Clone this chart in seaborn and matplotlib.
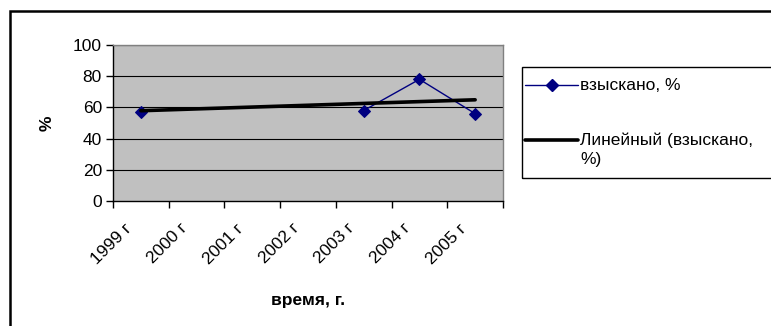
import numpy as np
import pandas as pd
import matplotlib
matplotlib.use("Agg")
import matplotlib.pyplot as plt
import seaborn as sns
from matplotlib.patches import Rectangle
from matplotlib.lines import Line2D

years = ["1999 г", "2000 г", "2001 г", "2002 г", "2003 г", "2004 г", "2005 г"]
collected = [57, np.nan, np.nan, np.nan, 58, 78, 56]
series_name = "взыскано, %"
trend_name = ["Линейный (взыскано,", "%)"]

sns.set_style("white")
plt.rcParams["font.family"] = ["Liberation Sans", "DejaVu Sans"]
plt.rcParams["font.size"] = 12.5
plt.rcParams["text.color"] = "black"
plt.rcParams["xtick.color"] = "black"
plt.rcParams["ytick.color"] = "black"
plt.rcParams["axes.labelcolor"] = "black"

W, H = 771, 326
fig = plt.figure(figsize=(W / 100, H / 100), dpi=100)
ax = fig.add_axes([113 / W, 1 - 201 / H, 390 / W, 156 / H])

df = pd.DataFrame({"pos": np.arange(len(years)), "value": collected})
# contiguous runs so the gap years break the line like in Excel
df["seg"] = df["value"].isna().cumsum()
valid = df.dropna()

# linear trend over category index, as Excel does
k, b = np.polyfit(valid["pos"], valid["value"], 1)
trend = pd.DataFrame({"pos": [0, len(years) - 1]})
trend["value"] = k * trend["pos"] + b

ax.set_facecolor("#C0C0C0")
for y in range(20, 101, 20):
    ax.axhline(y, color="black", lw=0.8, zorder=1)

sns.lineplot(data=valid, x="pos", y="value", units="seg", estimator=None,
             color="#000080", lw=1, marker="D", markersize=6,
             markeredgecolor="#000080", ax=ax, zorder=3)
sns.lineplot(data=trend, x="pos", y="value", color="black", lw=2.6,
             ax=ax, zorder=4)

ax.set_xlim(-0.5, len(years) - 0.5)
ax.set_ylim(0, 100)
ax.set_yticks(range(0, 101, 20))
# rotated labels sit a bit left of the category centre, as Excel draws them
ax.set_xticks(np.arange(len(years)) - 0.2)
ax.set_xticklabels(years, rotation=45, ha="right", va="center",
                   rotation_mode="anchor")
ax.set_xticks(np.arange(-0.5, len(years), 1), minor=True)
ax.tick_params(axis="x", which="major", length=0, pad=18)
ax.tick_params(axis="x", which="minor", length=5, width=1, color="black",
               direction="out", bottom=True)
ax.tick_params(axis="y", length=5, width=1, color="black", direction="out",
               left=True, pad=3)
for side in ["top", "right"]:
    ax.spines[side].set_color("#808080")
for side in ["left", "bottom"]:
    ax.spines[side].set_color("black")
for s in ax.spines.values():
    s.set_linewidth(1)

ax.set_xlabel("время, г.", fontweight="bold", labelpad=19)
ax.set_ylabel("%", fontweight="bold")
ax.yaxis.set_label_coords((55 - 113) / 390, 0.5)


def px(x, y):
    return x / W, 1 - y / H


# legend drawn by hand so the handle sits on the first line of the text
for y, kw in [(85, dict(color="#000080", lw=1)), (140, dict(color="black", lw=2.6))]:
    fig.add_artist(Line2D([525 / W, 578 / W], [1 - y / H] * 2,
                          transform=fig.transFigure, **kw))
fig.add_artist(Line2D([551.5 / W], [1 - 85 / H], transform=fig.transFigure,
                      color="#000080", marker="D", markersize=6, lw=0))
fig.text(*px(580, 85), series_name, va="center", ha="left")
fig.text(*px(580, 140), trend_name[0], va="center", ha="left")
fig.text(*px(580, 159), trend_name[1], va="center", ha="left")

fig.patches.append(Rectangle(px(522, 178), 280 / W, 111 / H,
                             transform=fig.transFigure, fill=False,
                             edgecolor="black", lw=1))
fig.patches.append(Rectangle((10 / W, -20 / H), 800 / W, (H - 11 + 20) / H,
                             transform=fig.transFigure, fill=False,
                             edgecolor="black", lw=1.8))

fig.savefig("out.png", dpi=100, facecolor="white")
